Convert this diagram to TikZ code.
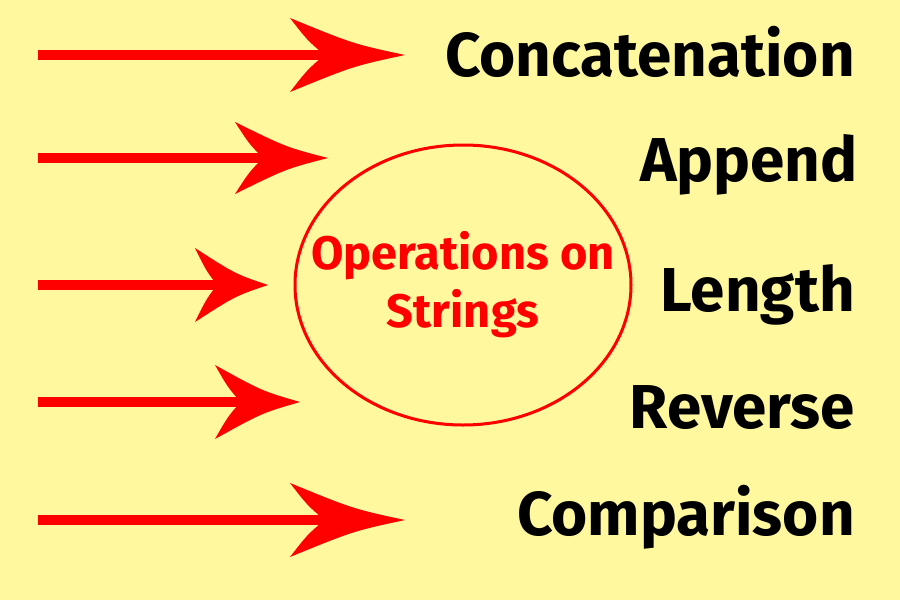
\documentclass[tikz,border=0pt]{standalone}
\usepackage{fontspec}
\usetikzlibrary{shapes.geometric}
\setmainfont{Fira Sans}
\definecolor{bg}{HTML}{FFF89E}
\definecolor{ar}{HTML}{FF0000}
\tikzset{lbl/.style={anchor=east,font=\fontsize{62}{66}\selectfont\bfseries,text=black,inner sep=0},
 shaft/.style={draw=ar,line width=10pt}}
\newcommand{\myarrow}[4]{% y, tip x, barb x, half height
 \coordinate (s#1) at (38,-#1);
 \coordinate (n#1) at ({#3+0.3*(#2-#3)},-#1);
 \draw[shaft] (s#1) -- (n#1);
 \fill[ar] (#2,-#1) .. controls ({#2-0.45*(#2-#3)},{-#1+0.3*#4}) .. (#3,{-#1+#4})
  .. controls ({#3+0.15*(#2-#3)},{-#1+0.4*#4}) .. (n#1)
  .. controls ({#3+0.15*(#2-#3)},{-#1-0.4*#4}) .. (#3,{-#1-#4})
  .. controls ({#2-0.45*(#2-#3)},{-#1-0.3*#4}) .. cycle;}
\begin{document}
\begin{tikzpicture}[x=1pt,y=1pt]
\fill[bg] (0,0) rectangle (900,-600);
\useasboundingbox (0,0) rectangle (900,-600);
\myarrow{55}{405}{290}{37}
\myarrow{158}{328}{235}{36}
\myarrow{285}{268}{195}{37}
\myarrow{402}{300}{215}{37}
\myarrow{520}{405}{290}{37}
\node[draw=ar,line width=3pt,ellipse,minimum width=336pt,minimum height=280pt,inner sep=0] (e) at (463,-285) {};
\node[text=ar,font=\fontsize{47}{58}\selectfont\bfseries,align=center] (t) at (463,-285) {Operations on\\Strings};
\node[lbl] (c1) at (855,-52) {Concatenation};
\node[lbl] (c2) at (858,-165) {Append};
\node[lbl] (c3) at (855,-295) {Length};
\node[lbl] (c4) at (855,-408) {Reverse};
\node[lbl] (c5) at (855,-517) {Comparison};
\end{tikzpicture}
\end{document}
